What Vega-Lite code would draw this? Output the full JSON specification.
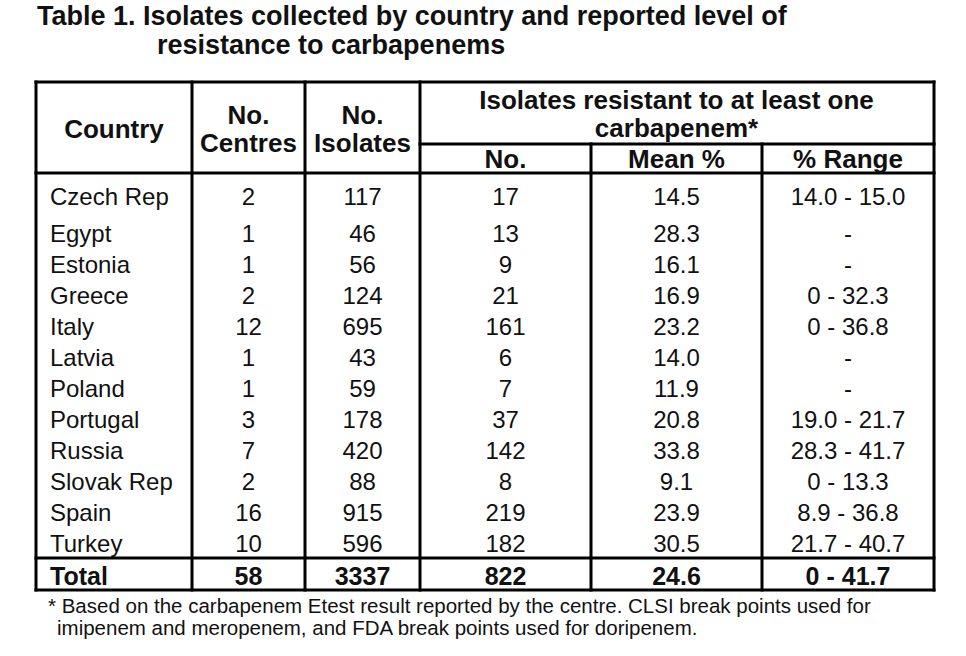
{
  "$schema": "https://vega.github.io/schema/vega-lite/v6.json",
  "width": 966,
  "height": 656,
  "autosize": {"type": "none"},
  "padding": 0,
  "background": "white",
  "config": {"view": {"stroke": null}, "text": {"font": "Liberation Sans", "color": "#111"}},
  "datasets": {
    "table": [
      {"Country": "Czech Rep", "Centres": "2", "Isolates": "117", "Resistant": "17", "Mean": "14.5", "Range": "14.0 - 15.0"},
      {"Country": "Egypt", "Centres": "1", "Isolates": "46", "Resistant": "13", "Mean": "28.3", "Range": "-"},
      {"Country": "Estonia", "Centres": "1", "Isolates": "56", "Resistant": "9", "Mean": "16.1", "Range": "-"},
      {"Country": "Greece", "Centres": "2", "Isolates": "124", "Resistant": "21", "Mean": "16.9", "Range": "0 - 32.3"},
      {"Country": "Italy", "Centres": "12", "Isolates": "695", "Resistant": "161", "Mean": "23.2", "Range": "0 - 36.8"},
      {"Country": "Latvia", "Centres": "1", "Isolates": "43", "Resistant": "6", "Mean": "14.0", "Range": "-"},
      {"Country": "Poland", "Centres": "1", "Isolates": "59", "Resistant": "7", "Mean": "11.9", "Range": "-"},
      {"Country": "Portugal", "Centres": "3", "Isolates": "178", "Resistant": "37", "Mean": "20.8", "Range": "19.0 - 21.7"},
      {"Country": "Russia", "Centres": "7", "Isolates": "420", "Resistant": "142", "Mean": "33.8", "Range": "28.3 - 41.7"},
      {"Country": "Slovak Rep", "Centres": "2", "Isolates": "88", "Resistant": "8", "Mean": "9.1", "Range": "0 - 13.3"},
      {"Country": "Spain", "Centres": "16", "Isolates": "915", "Resistant": "219", "Mean": "23.9", "Range": "8.9 - 36.8"},
      {"Country": "Turkey", "Centres": "10", "Isolates": "596", "Resistant": "182", "Mean": "30.5", "Range": "21.7 - 40.7"},
      {"Country": "Total", "Centres": "58", "Isolates": "3337", "Resistant": "822", "Mean": "24.6", "Range": "0 - 41.7"}
    ],
    "grid": [
      {"x1": 0, "x2": 6, "y1": 0, "y2": 0},
      {"x1": 0, "x2": 6, "y1": 16, "y2": 16},
      {"x1": 0, "x2": 0, "y1": 0, "y2": 16},
      {"x1": 6, "x2": 6, "y1": 0, "y2": 16},
      {"x1": 0, "x2": 6, "y1": 3, "y2": 3},
      {"x1": 3, "x2": 6, "y1": 2, "y2": 2},
      {"x1": 0, "x2": 6, "y1": 15, "y2": 15},
      {"x1": 1, "x2": 1, "y1": 0, "y2": 16},
      {"x1": 2, "x2": 2, "y1": 0, "y2": 16},
      {"x1": 3, "x2": 3, "y1": 0, "y2": 16},
      {"x1": 4, "x2": 4, "y1": 2, "y2": 16},
      {"x1": 5, "x2": 5, "y1": 2, "y2": 16}
    ],
    "header": [
      {"text": "Country", "c0": 0, "c1": 1, "r0": 0, "r1": 3, "lines": 1},
      {"text": "No.\nCentres", "c0": 1, "c1": 2, "r0": 0, "r1": 3, "lines": 2},
      {"text": "No.\nIsolates", "c0": 2, "c1": 3, "r0": 0, "r1": 3, "lines": 2},
      {"text": "Isolates resistant to at least one\ncarbapenem*", "c0": 3, "c1": 6, "r0": 0, "r1": 2, "lines": 2},
      {"text": "No.", "c0": 3, "c1": 4, "r0": 2, "r1": 3, "lines": 1},
      {"text": "Mean %", "c0": 4, "c1": 5, "r0": 2, "r1": 3, "lines": 1},
      {"text": "% Range", "c0": 5, "c1": 6, "r0": 2, "r1": 3, "lines": 1}
    ]
  },
  "layer": [
    {
      "data": {"name": "grid"},
      "mark": {"type": "rule", "strokeWidth": 3, "color": "#000", "strokeCap": "square"},
      "encoding": {
        "x": {"field": "x1", "type": "quantitative", "axis": null, "scale": {"type": "linear", "domain": [0, 1, 2, 3, 4, 5, 6], "range": [36, 192, 305, 420, 591, 762, 934], "zero": false, "nice": false}},
        "x2": {"field": "x2"},
        "y": {"field": "y1", "type": "quantitative", "axis": null, "scale": {"type": "linear", "domain": [0, 2, 3, 4, 15, 16], "range": [82, 144, 173, 217, 558, 590], "zero": false, "nice": false}},
        "y2": {"field": "y2"}
      }
    },
    {
      "data": {"name": "header"},
      "transform": [
        {"filter": "datum.lines === 1"},
        {"calculate": "(datum.c0 + datum.c1) / 2", "as": "xc"},
        {"calculate": "(datum.r0 + datum.r1) / 2", "as": "yc"}
      ],
      "mark": {"type": "text", "fontSize": 26, "fontWeight": "bold", "align": "center", "baseline": "middle", "dy": 1.5},
      "encoding": {
        "x": {"field": "xc", "type": "quantitative", "axis": null},
        "y": {"field": "yc", "type": "quantitative", "axis": null},
        "text": {"field": "text"}
      }
    },
    {
      "data": {"name": "header"},
      "transform": [
        {"filter": "datum.lines === 2"},
        {"calculate": "(datum.c0 + datum.c1) / 2", "as": "xc"},
        {"calculate": "(datum.r0 + datum.r1) / 2", "as": "yc"}
      ],
      "mark": {"type": "text", "fontSize": 26, "fontWeight": "bold", "align": "center", "baseline": "middle", "lineBreak": "\n", "lineHeight": 28, "dy": -12.5},
      "encoding": {
        "x": {"field": "xc", "type": "quantitative", "axis": null},
        "y": {"field": "yc", "type": "quantitative", "axis": null},
        "text": {"field": "text"}
      }
    },
    {
      "data": {"name": "table"},
      "transform": [
        {"window": [{"op": "row_number", "as": "rn"}]},
        {"calculate": "datum.rn + 2.5", "as": "yc"},
        {"filter": "datum.Country !== 'Total'"}
      ],
      "mark": {"type": "text", "fontSize": 24, "align": "left", "baseline": "middle", "dx": 14, "dy": 2.5},
      "encoding": {
        "x": {"datum": 0, "type": "quantitative", "axis": null},
        "y": {"field": "yc", "type": "quantitative", "axis": null},
        "text": {"field": "Country"}
      }
    },
    {
      "data": {"name": "table"},
      "transform": [
        {"window": [{"op": "row_number", "as": "rn"}]},
        {"calculate": "datum.rn + 2.5", "as": "yc"},
        {"filter": "datum.Country === 'Total'"}
      ],
      "mark": {"type": "text", "fontSize": 25, "fontWeight": "bold", "align": "left", "baseline": "middle", "dx": 14, "dy": 2.5},
      "encoding": {
        "x": {"datum": 0, "type": "quantitative", "axis": null},
        "y": {"field": "yc", "type": "quantitative", "axis": null},
        "text": {"field": "Country"}
      }
    },
    {
      "data": {"name": "table"},
      "transform": [
        {"window": [{"op": "row_number", "as": "rn"}]},
        {"calculate": "datum.rn + 2.5", "as": "yc"},
        {"filter": "datum.Country !== 'Total'"},
        {"fold": ["Centres", "Isolates", "Resistant", "Mean", "Range"], "as": ["key", "value"]},
        {"calculate": "indexof(['Centres','Isolates','Resistant','Mean','Range'], datum.key) + 1.5", "as": "xc"}
      ],
      "mark": {"type": "text", "fontSize": 24, "align": "center", "baseline": "middle", "dy": 2.5},
      "encoding": {
        "x": {"field": "xc", "type": "quantitative", "axis": null},
        "y": {"field": "yc", "type": "quantitative", "axis": null},
        "text": {"field": "value"}
      }
    },
    {
      "data": {"name": "table"},
      "transform": [
        {"window": [{"op": "row_number", "as": "rn"}]},
        {"calculate": "datum.rn + 2.5", "as": "yc"},
        {"filter": "datum.Country === 'Total'"},
        {"fold": ["Centres", "Isolates", "Resistant", "Mean", "Range"], "as": ["key", "value"]},
        {"calculate": "indexof(['Centres','Isolates','Resistant','Mean','Range'], datum.key) + 1.5", "as": "xc"}
      ],
      "mark": {"type": "text", "fontSize": 25, "fontWeight": "bold", "align": "center", "baseline": "middle", "dy": 2.5},
      "encoding": {
        "x": {"field": "xc", "type": "quantitative", "axis": null},
        "y": {"field": "yc", "type": "quantitative", "axis": null},
        "text": {"field": "value"}
      }
    },
    {
      "data": {"values": [{}]},
      "mark": {"type": "text", "text": "Table 1. Isolates collected by country and reported level of", "fontSize": 27, "fontWeight": "bold", "align": "left", "baseline": "middle", "dx": 1},
      "encoding": {
        "x": {"datum": 0, "type": "quantitative", "axis": null},
        "y": {"datum": -2.1, "type": "quantitative", "axis": null}
      }
    },
    {
      "data": {"values": [{}]},
      "mark": {"type": "text", "text": "resistance to carbapenems", "fontSize": 27, "fontWeight": "bold", "align": "left", "baseline": "middle", "dx": 121},
      "encoding": {
        "x": {"datum": 0, "type": "quantitative", "axis": null},
        "y": {"datum": -1.16, "type": "quantitative", "axis": null}
      }
    },
    {
      "data": {"values": [{}]},
      "mark": {"type": "text", "text": "* Based on the carbapenem Etest result reported by the centre. CLSI break points used for", "fontSize": 20.5, "align": "left", "baseline": "middle", "dx": 12},
      "encoding": {
        "x": {"datum": 0, "type": "quantitative", "axis": null},
        "y": {"datum": 16.54, "type": "quantitative", "axis": null}
      }
    },
    {
      "data": {"values": [{}]},
      "mark": {"type": "text", "text": "imipenem and meropenem, and FDA break points used for doripenem.", "fontSize": 20.5, "align": "left", "baseline": "middle", "dx": 21},
      "encoding": {
        "x": {"datum": 0, "type": "quantitative", "axis": null},
        "y": {"datum": 17.23, "type": "quantitative", "axis": null}
      }
    }
  ]
}
